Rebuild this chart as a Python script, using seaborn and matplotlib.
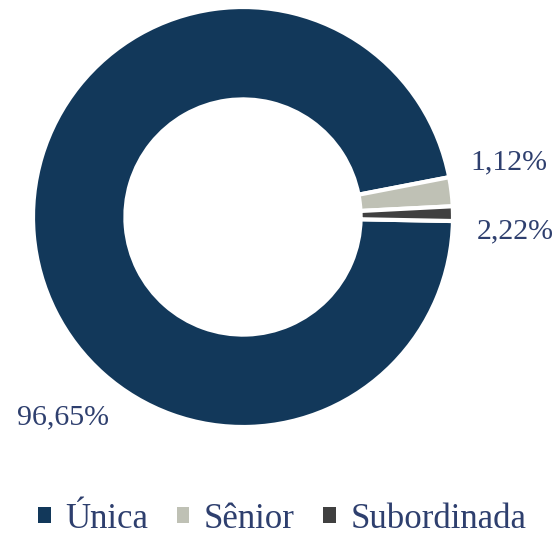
import matplotlib
matplotlib.use("Agg")
import matplotlib.pyplot as plt
import seaborn as sns
from matplotlib.patches import Patch

sns.set_theme(style="white")
plt.rcParams['font.family'] = ['Liberation Serif', 'DejaVu Serif']

categories = ["Única", "Sênior", "Subordinada"]
values = [96.65, 2.22, 1.12]
label_texts = ["96,65%", "1,12%", "2,22%"]
colors = ["#12385A", "#BFC1B5", "#404040"]
text_color = "#2E3F6E"

W, H = 556, 538
fig = plt.figure(figsize=(W / 100, H / 100), dpi=100)
cx, cy, R = 243, 217, 210
ax = fig.add_axes([(cx - R) / W, (H - cy - R) / H, 2 * R / W, 2 * R / H])

wedges, _ = ax.pie(values, colors=colors, startangle=-1.1, counterclock=False,
                   radius=1.0, wedgeprops=dict(width=0.44, edgecolor="white", linewidth=3))
ax.set_xlim(-1, 1)
ax.set_ylim(-1, 1)
ax.set_aspect("equal")
ax.axis("off")

label_px = [(63, 417), (509, 162), (515, 231)]
for txt, (px, py) in zip(label_texts, label_px):
    ax.text((px - cx) / R, (cy - py) / R, txt, ha="center", va="center",
            fontsize=21.5, color=text_color, clip_on=False)

handles = [Patch(facecolor=c, edgecolor="none") for c in colors]
fig.legend(handles, categories, loc="center", bbox_to_anchor=(0.508, (H - 519) / H),
           ncol=3, frameon=False, fontsize=25, labelcolor=text_color,
           handlelength=0.36, handleheight=0.36, handletextpad=0.42, columnspacing=0.82,
           borderpad=0.2)

fig.savefig("out.png", dpi=100, facecolor="white")
